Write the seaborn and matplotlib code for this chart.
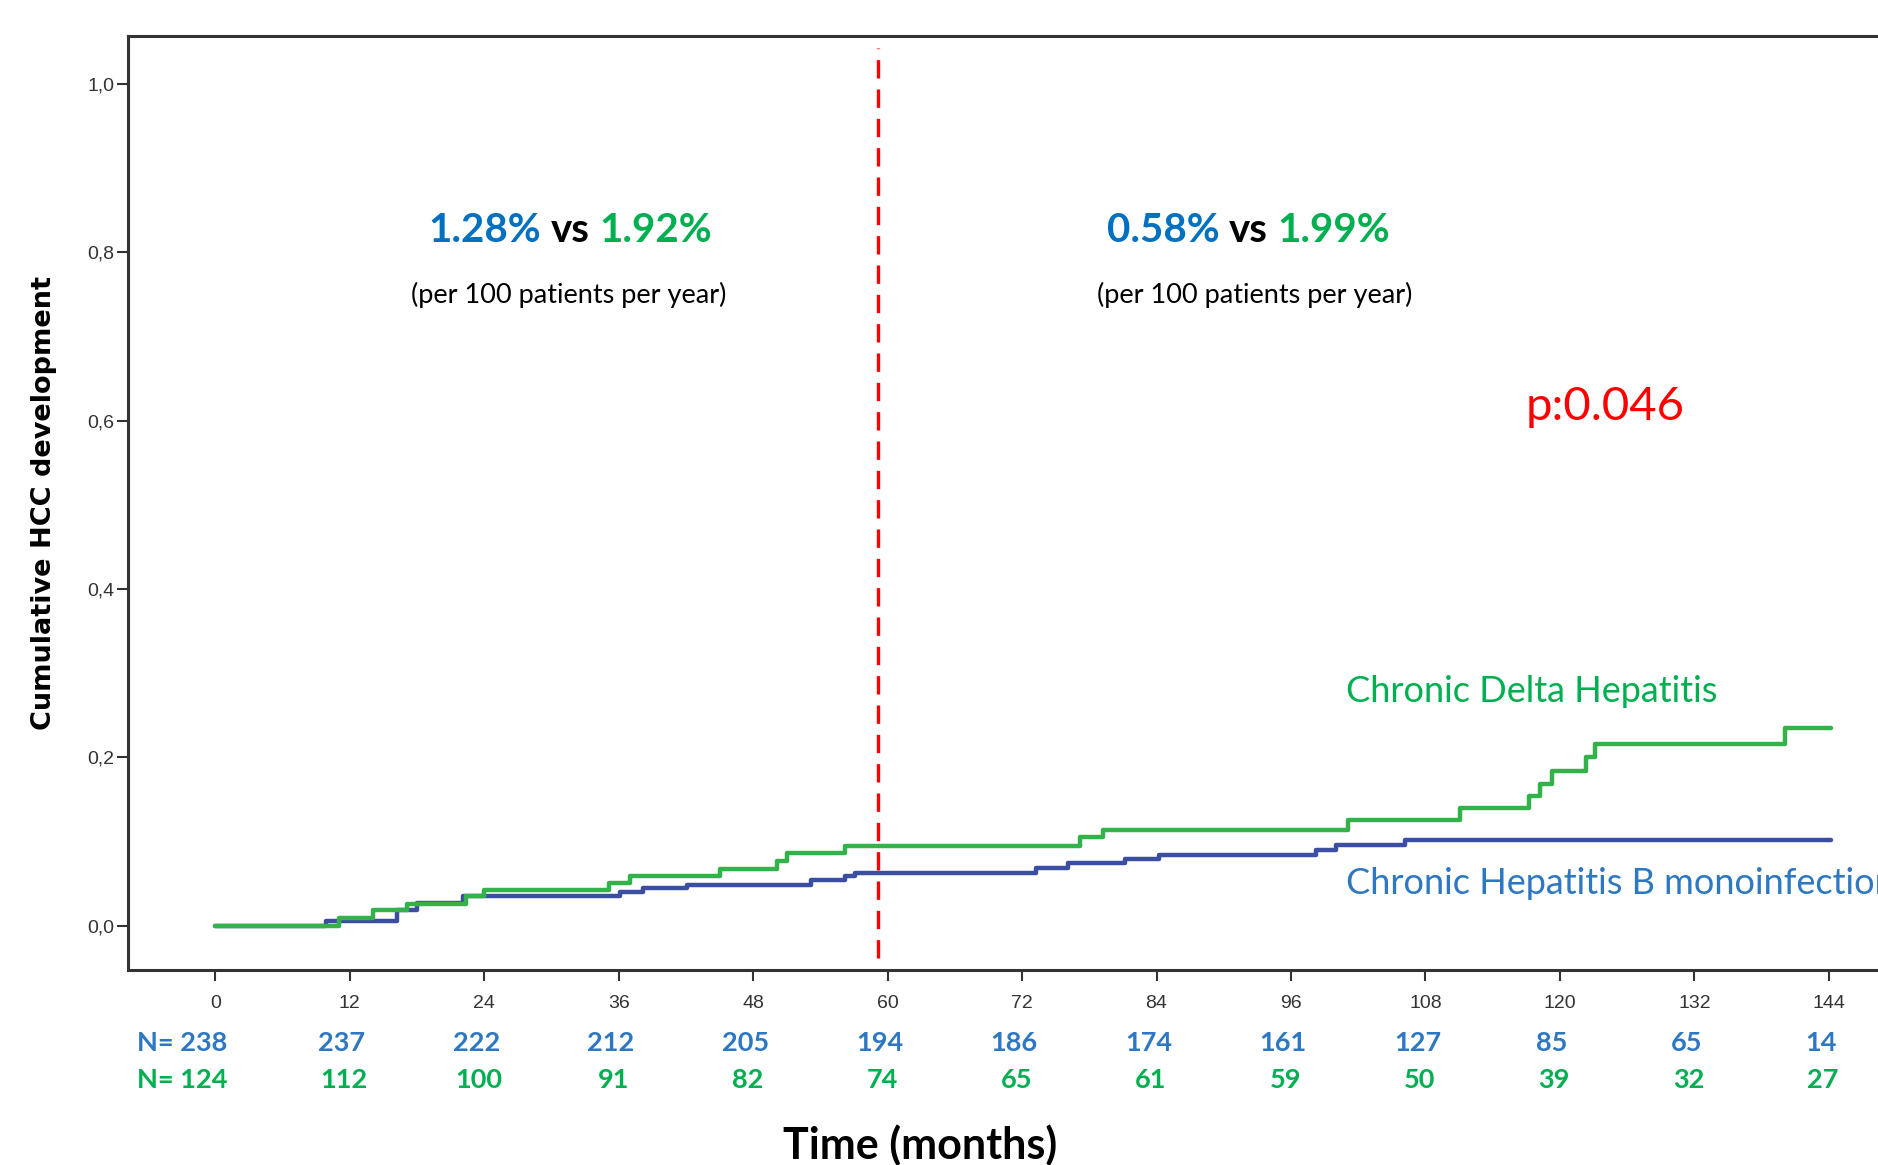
import numpy as np
import pandas as pd
import matplotlib
matplotlib.use('Agg')
import matplotlib.pyplot as plt
import seaborn as sns

# --- data ---
months_cdh = [0, 11.0, 14.1, 17.1, 22.4, 24.0, 35.1, 37.0, 45.0, 50.1, 51.0, 56.2,
              77.2, 79.2, 101.1, 111.1, 117.2, 118.2, 119.3, 122.3, 123.1, 140.1, 144.2]
cum_cdh = [0, 0.009, 0.019, 0.026, 0.035, 0.0425, 0.051, 0.059, 0.068, 0.077, 0.086, 0.095,
           0.105, 0.114, 0.126, 0.140, 0.154, 0.168, 0.184, 0.200, 0.216, 0.235, 0.235]

months_hbv = [0, 9.9, 16.2, 18.0, 22.1, 36.1, 38.2, 42.1, 53.2, 56.2, 57.1,
              73.2, 76.1, 81.2, 84.2, 98.2, 100.0, 106.2, 144.2]
cum_hbv = [0, 0.006, 0.019, 0.0275, 0.035, 0.0405, 0.045, 0.0485, 0.0544, 0.0591, 0.063,
           0.069, 0.075, 0.079, 0.084, 0.090, 0.096, 0.102, 0.102]

tick_months = list(range(0, 145, 12))
n_hbv = [238, 237, 222, 212, 205, 194, 186, 174, 161, 127, 85, 65, 14]
n_cdh = [124, 112, 100, 91, 82, 74, 65, 61, 59, 50, 39, 32, 27]

cutoff_month = 59.1
rates_left = ['1.28%', '1.92%']
rates_right = ['0.58%', '1.99%']
p_text = 'p:0.046'

# colours
c_blue_line = '#3C4EA2'
c_green_line = '#33B24A'
c_blue_txt = '#0070C0'
c_blue_lab = '#2E78C2'
c_green_txt = '#00B050'

df = pd.concat([
    pd.DataFrame({'month': months_hbv, 'cum': cum_hbv, 'group': 'Chronic Hepatitis B monoinfection'}),
    pd.DataFrame({'month': months_cdh, 'cum': cum_cdh, 'group': 'Chronic Delta Hepatitis'}),
])

sns.set_style('white')
plt.rcParams['font.family'] = ['Liberation Sans', 'DejaVu Sans']

W, H = 1878, 1165
fig = plt.figure(figsize=(W / 100, H / 100), dpi=100)
ax = fig.add_axes([128 / W, 1 - 970 / H, (1896 - 128) / W, (970 - 36) / H])

sns.lineplot(data=df, x='month', y='cum', hue='group', estimator=None, sort=True,
             palette={'Chronic Hepatitis B monoinfection': c_blue_line,
                      'Chronic Delta Hepatitis': c_green_line},
             drawstyle='steps-post', linewidth=3.2, legend=False, ax=ax)

ax.set_xlim(-7.8, 150)
ax.set_ylim(-0.0525, 1.057)
ax.set_xticks(tick_months)
ax.set_xticklabels([str(m) for m in tick_months])
ax.set_yticks([0, 0.2, 0.4, 0.6, 0.8, 1.0])
ax.set_yticklabels(['0,0', '0,2', '0,4', '0,6', '0,8', '1,0'])
ax.tick_params(axis='both', direction='out', length=8, width=1.5, color='#333333',
               labelsize=14, labelcolor='#333333', left=True, bottom=True)
ax.tick_params(axis='x', pad=10)
ax.tick_params(axis='y', pad=2)
for s in ax.spines.values():
    s.set_color('#333333')
    s.set_linewidth(2.2)
ax.set_xlabel('')
ax.set_ylabel('')

# red dashed cut-off
ax.plot([cutoff_month, cutoff_month], [-0.038, 1.043], color='#FF0000', lw=2.4,
        dashes=(5.5, 3.3))

calibri = ['Lato', 'DejaVu Sans']

def rate_pair(xc, y, left, right):
    vs = ax.text(xc, y, 'vs', ha='center', va='center', fontsize=29, fontweight='bold',
                 color='black', family=calibri)
    ax.annotate(left, xy=(0, 0), xycoords=vs, xytext=(-7, 0), textcoords='offset points',
                ha='right', va='bottom', fontsize=29, fontweight='bold', color=c_blue_txt,
                family=calibri)
    ax.annotate(right, xy=(1, 0), xycoords=vs, xytext=(7, 0), textcoords='offset points',
                ha='left', va='bottom', fontsize=29, fontweight='bold', color=c_green_txt,
                family=calibri)

rate_pair(31.7, 0.826, *rates_left)
rate_pair(92.2, 0.826, *rates_right)
ax.text(31.5, 0.749, '(per 100 patients per year)', ha='center', va='center',
        fontsize=19.5, color='black', family=calibri)
ax.text(92.8, 0.749, '(per 100 patients per year)', ha='center', va='center',
        fontsize=19.5, color='black', family=calibri)

ax.text(116.9, 0.616, p_text, ha='left', va='center', fontsize=34, color='#FF0000',
        family=calibri)
ax.text(100.9, 0.278, 'Chronic Delta Hepatitis', ha='left', va='center', fontsize=26,
        color=c_green_txt, family=calibri)
ax.text(100.9, 0.050, 'Chronic Hepatitis B monoinfection', ha='left', va='center',
        fontsize=26, color=c_blue_lab, family=calibri)

# numbers at risk
for i, (m, a, b) in enumerate(zip(tick_months, n_hbv, n_cdh)):
    if i == 0:
        ax.text(1.1, -0.139, f'N= {a}', ha='right', va='center', fontsize=19.5,
                fontweight='bold', color=c_blue_lab, family=calibri)
        ax.text(1.1, -0.183, f'N= {b}', ha='right', va='center', fontsize=19.5,
                fontweight='bold', color=c_green_txt, family=calibri)
    else:
        ax.text(m - 0.7, -0.139, str(a), ha='center', va='center', fontsize=19.5,
                fontweight='bold', color=c_blue_lab, family=calibri)
        ax.text(m - 0.5, -0.183, str(b), ha='center', va='center', fontsize=19.5,
                fontweight='bold', color=c_green_txt, family=calibri)

fig.text(920 / W, 1 - 1145 / H, 'Time (months)', ha='center', va='center', fontsize=31,
         fontweight='bold', color='black', family=calibri)
fig.text(44 / W, 1 - 503 / H, 'Cumulative HCC development', ha='center', va='center',
         rotation=90, fontsize=19.5, fontweight='bold', color='black', family='DejaVu Sans')

fig.savefig('out.png', dpi=100)
